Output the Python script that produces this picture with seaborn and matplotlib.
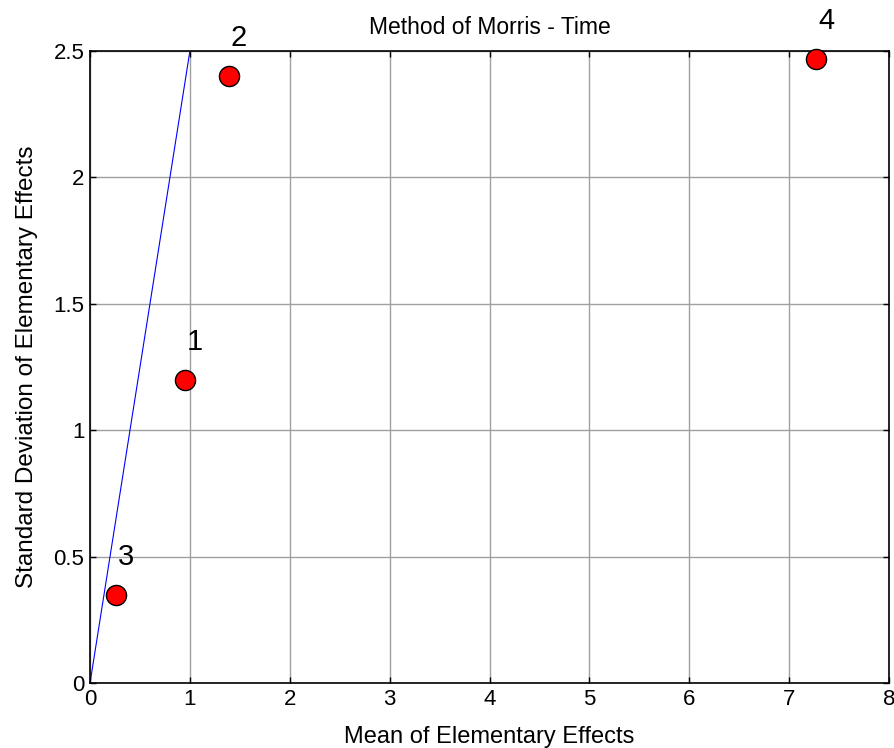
import matplotlib
matplotlib.use("Agg")
import matplotlib.pyplot as plt
import seaborn as sns
import pandas as pd

labels = ["1", "2", "3", "4"]
mean_ee = [0.95, 1.39, 0.26, 7.27]
std_ee = [1.20, 2.40, 0.35, 2.47]
line_x = [0.0, 1.0]
line_y = [0.0, 2.5]
xticks = [0, 1, 2, 3, 4, 5, 6, 7, 8]
yticks = [0, 0.5, 1, 1.5, 2, 2.5]
ytick_labels = ["0", "0.5", "1", "1.5", "2", "2.5"]

sns.set_theme(style="white")
plt.rcParams["font.family"] = ["Liberation Sans", "DejaVu Sans"]
plt.rcParams["text.color"] = "black"
plt.rcParams["axes.labelcolor"] = "black"

df = pd.DataFrame({"mean": mean_ee, "std": std_ee, "label": labels})
ldf = pd.DataFrame({"x": line_x, "y": line_y})

fig = plt.figure(figsize=(8.95, 7.48), dpi=100)
ax = fig.add_axes([0.1006, 0.0869, 0.8927, 0.8449])

sns.lineplot(data=ldf, x="x", y="y", ax=ax, color="blue", linewidth=0.8, zorder=2)
sns.scatterplot(data=df, x="mean", y="std", ax=ax, s=210, color="red",
                edgecolor="black", linewidth=1.0, zorder=3, clip_on=False)
for _, r in df.iterrows():
    ax.text(r["mean"] + 0.1, r["std"] + 0.15, r["label"], fontsize=21,
            ha="center", va="center", color="black")

ax.set_xlim(0, 8)
ax.set_ylim(0, 2.5)
ax.set_xticks(xticks)
ax.set_xticklabels([str(t) for t in xticks])
ax.set_yticks(yticks)
ax.set_yticklabels(ytick_labels)
ax.grid(True, color="#a0a0a0", linewidth=1.0, linestyle="-")
ax.set_axisbelow(True)
ax.tick_params(direction="in", length=4, width=1, labelsize=16, colors="black",
               top=True, right=True, bottom=True, left=True, pad=4)
for sp in ax.spines.values():
    sp.set_visible(True)
    sp.set_color("black")
    sp.set_linewidth(1.2)
ax.set_title("Method of Morris - Time", fontsize=16.5, pad=12, color="black")
ax.set_xlabel("Mean of Elementary Effects", fontsize=17, labelpad=12, color="black")
ax.set_ylabel("Standard Deviation of Elementary Effects", fontsize=17.5, labelpad=11,
              color="black")

fig.savefig("out.png", dpi=100)
